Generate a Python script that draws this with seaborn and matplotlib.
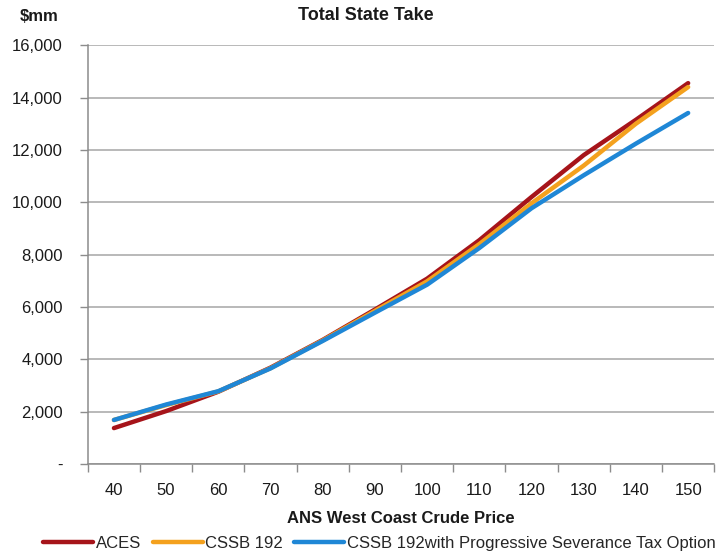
import matplotlib
matplotlib.use("Agg")
import matplotlib.pyplot as plt
import seaborn as sns
import pandas as pd
from matplotlib.ticker import FixedLocator, FuncFormatter

# Oil price scenarios ($/bbl) and total state take ($mm)
prices = [40, 50, 60, 70, 80, 90, 100, 110, 120, 130, 140, 150]
aces = [1370, 2020, 2760, 3680, 4740, 5900, 7080, 8550, 10200, 11800, 13150, 14550]
cssb_192 = [1680, 2250, 2770, 3660, 4720, 5850, 6980, 8400, 9960, 11400, 13000, 14400]
cssb_192_prog = [1680, 2270, 2780, 3650, 4700, 5780, 6850, 8250, 9770, 11030, 12240, 13410]

series_names = ["ACES", "CSSB 192", "CSSB 192with Progressive Severance Tax Option"]
series_colors = ["#A6141A", "#F4A11E", "#1F87D6"]

y_ticks = [0, 2000, 4000, 6000, 8000, 10000, 12000, 14000, 16000]

rows = []
for name, vals in zip(series_names, [aces, cssb_192, cssb_192_prog]):
    for i, (p, v) in enumerate(zip(prices, vals)):
        rows.append({"pos": i, "price": p, "take": v, "scenario": name})
df = pd.DataFrame(rows)

sns.set_theme(style="white")
plt.rcParams["font.family"] = ["Liberation Sans", "DejaVu Sans"]

fs = 12
txt = "#1a1a1a"

fig = plt.figure(figsize=(7.2, 5.51), dpi=100)
ax = fig.add_axes([0.122, 0.158, 0.870, 0.760])

sns.lineplot(data=df, x="pos", y="take", hue="scenario", hue_order=series_names,
             palette=series_colors, linewidth=3.2, sort=False, legend=False,
             ax=ax, zorder=3)

grey = "#8c8c8c"
ax.set_xlim(-0.5, len(prices) - 0.5)
ax.set_ylim(0, 16000)

# Category boundaries get ticks, labels sit at category centres
ax.xaxis.set_major_locator(FixedLocator([i - 0.5 for i in range(len(prices) + 1)]))
ax.xaxis.set_minor_locator(FixedLocator(list(range(len(prices)))))
ax.xaxis.set_major_formatter(FuncFormatter(lambda v, p: ""))
ax.set_xticklabels([str(p) for p in prices], minor=True)
ax.tick_params(axis="x", which="major", direction="out", length=6, width=1,
               color=grey, bottom=True)
ax.tick_params(axis="x", which="minor", length=0, pad=14, labelsize=fs,
               colors=txt)

ax.set_yticks(y_ticks)
ax.yaxis.set_major_formatter(FuncFormatter(lambda v, p: "-" if v == 0 else f"{int(v):,}"))
ax.tick_params(axis="y", direction="out", length=6, width=1, color=grey,
               left=True, labelsize=fs, labelcolor=txt, pad=12)

ax.grid(axis="y", color="#a6a6a6", linewidth=1.1)
ax.grid(axis="x", visible=False)
for side in ["top", "right"]:
    ax.spines[side].set_visible(False)
for side in ["left", "bottom"]:
    ax.spines[side].set_color(grey)
    ax.spines[side].set_linewidth(1.1)

ax.set_xlabel("ANS West Coast Crude Price", fontsize=fs, fontweight="bold",
              color=txt, labelpad=9)
ax.set_ylabel("")
ax.set_title("Total State Take", fontsize=13, fontweight="bold",
             color=txt, pad=18, x=0.444)
fig.text(0.028, 0.970, "$mm", fontsize=fs, fontweight="bold",
         color=txt, va="center", ha="left")

handles = ax.get_lines()[:3]
fig.legend(handles, series_names, loc="lower center", ncol=3,
           bbox_to_anchor=(0.527, -0.027), frameon=False, fontsize=fs,
           handlelength=3.0, handletextpad=0.15, columnspacing=0.7)

fig.savefig("out.png", dpi=100)
